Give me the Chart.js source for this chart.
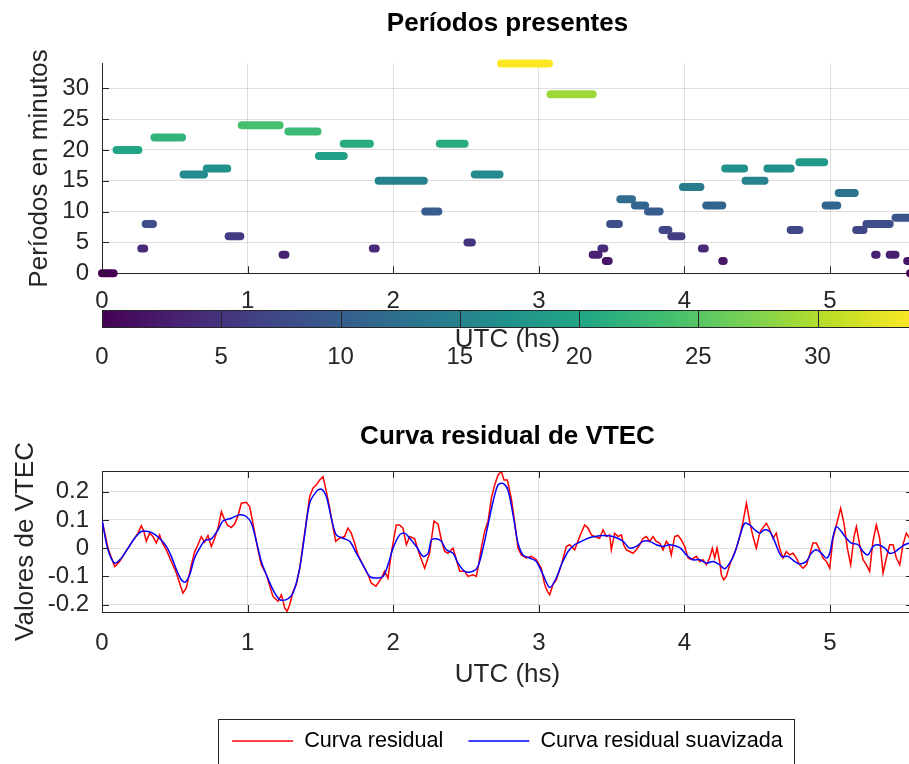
<!DOCTYPE html>
<html>
<head>
<meta charset="utf-8">
<script src="https://cdn.jsdelivr.net/npm/chart.js@4.4.1/dist/chart.umd.min.js"></script>
<style>
  html, body { margin: 0; padding: 0; background: #fff; overflow: hidden; width: 909px; height: 764px; }
  canvas { position: absolute; left: 0; }
  #top { top: 0; }
  #cbar { top: 300px; }
  #bottom { top: 380px; }
</style>
</head>
<body>
<canvas id="top" width="913" height="380"></canvas>
<canvas id="cbar" width="913" height="80"></canvas>
<canvas id="bottom" width="913" height="384"></canvas>
<script>
// periods found: each one is a run of points at a constant period (UTC hours)
const segStart  = [0.00, 0.10, 0.27, 0.30, 0.36, 0.56, 0.72, 0.87, 0.96, 1.24, 1.28, 1.49, 1.66, 1.86, 1.90, 2.22, 2.32, 2.51, 2.56, 2.74, 3.08, 3.37, 3.43, 3.46, 3.49, 3.56, 3.66, 3.75, 3.85, 3.91, 3.99, 4.12, 4.15, 4.26, 4.28, 4.42, 4.57, 4.73, 4.79, 4.97, 5.06, 5.18, 5.25, 5.31, 5.41, 5.45, 5.53, 5.55];
const segEnd    = [0.08, 0.25, 0.29, 0.35, 0.55, 0.70, 0.86, 0.95, 1.22, 1.26, 1.48, 1.66, 1.84, 1.88, 2.21, 2.31, 2.49, 2.54, 2.73, 3.07, 3.37, 3.41, 3.45, 3.48, 3.55, 3.64, 3.73, 3.83, 3.89, 3.98, 4.11, 4.14, 4.26, 4.27, 4.41, 4.55, 4.73, 4.79, 4.96, 5.05, 5.17, 5.23, 5.41, 5.32, 5.45, 5.56, 5.56, 5.57];
const segPeriod = [0, 20, 4, 8, 22, 16, 17, 6, 24, 3, 23, 19, 21, 4, 15, 10, 21, 5, 16, 34, 29, 3, 4, 2, 8, 12, 11, 10, 7, 6, 14, 4, 11, 2, 17, 15, 17, 7, 18, 11, 13, 7, 8, 3, 3, 9, 2, 0];

// residual VTEC curve (raw) and its smoothed version
const resX = [0.000, 0.041, 0.087, 0.121, 0.156, 0.201, 0.247, 0.270, 0.288, 0.304, 0.327, 0.350, 0.373, 0.396, 0.412, 0.442, 0.476, 0.511, 0.540, 0.556, 0.579, 0.614, 0.636, 0.659, 0.682, 0.705, 0.728, 0.751, 0.774, 0.797, 0.820, 0.838, 0.861, 0.888, 0.911, 0.934, 0.957, 0.991, 1.014, 1.037, 1.071, 1.094, 1.129, 1.174, 1.209, 1.232, 1.255, 1.271, 1.289, 1.312, 1.335, 1.358, 1.380, 1.403, 1.426, 1.449, 1.472, 1.495, 1.518, 1.541, 1.564, 1.586, 1.605, 1.632, 1.666, 1.689, 1.712, 1.735, 1.758, 1.792, 1.827, 1.850, 1.882, 1.919, 1.941, 1.964, 1.987, 2.021, 2.044, 2.067, 2.090, 2.113, 2.147, 2.182, 2.216, 2.250, 2.280, 2.308, 2.331, 2.354, 2.376, 2.411, 2.434, 2.457, 2.491, 2.514, 2.548, 2.571, 2.582, 2.605, 2.628, 2.651, 2.674, 2.697, 2.720, 2.743, 2.761, 2.784, 2.811, 2.834, 2.857, 2.880, 2.914, 2.949, 2.983, 3.017, 3.040, 3.059, 3.075, 3.097, 3.120, 3.155, 3.189, 3.212, 3.246, 3.281, 3.315, 3.338, 3.361, 3.384, 3.418, 3.441, 3.464, 3.487, 3.498, 3.521, 3.544, 3.567, 3.583, 3.601, 3.624, 3.647, 3.670, 3.693, 3.716, 3.739, 3.761, 3.784, 3.807, 3.830, 3.853, 3.876, 3.894, 3.910, 3.933, 3.956, 3.979, 4.002, 4.025, 4.047, 4.082, 4.105, 4.128, 4.151, 4.173, 4.192, 4.208, 4.224, 4.242, 4.254, 4.270, 4.288, 4.311, 4.334, 4.357, 4.380, 4.403, 4.426, 4.448, 4.471, 4.494, 4.517, 4.528, 4.563, 4.586, 4.609, 4.631, 4.654, 4.677, 4.700, 4.723, 4.746, 4.769, 4.792, 4.815, 4.838, 4.860, 4.883, 4.906, 4.929, 4.952, 4.975, 4.998, 5.021, 5.044, 5.073, 5.096, 5.119, 5.142, 5.165, 5.181, 5.204, 5.227, 5.250, 5.272, 5.295, 5.318, 5.341, 5.364, 5.387, 5.410, 5.433, 5.456, 5.479, 5.501, 5.524, 5.547];
const resY = [0.100, 0.000, -0.065, -0.047, -0.018, 0.018, 0.053, 0.079, 0.059, 0.024, 0.053, 0.041, 0.018, 0.047, 0.021, -0.006, -0.047, -0.088, -0.135, -0.159, -0.141, -0.059, -0.014, 0.012, 0.041, 0.021, 0.045, 0.006, 0.035, 0.071, 0.129, 0.106, 0.082, 0.073, 0.085, 0.115, 0.159, 0.162, 0.147, 0.088, -0.006, -0.059, -0.094, -0.171, -0.188, -0.165, -0.212, -0.224, -0.200, -0.153, -0.129, -0.071, 0.012, 0.094, 0.182, 0.212, 0.224, 0.241, 0.253, 0.200, 0.141, 0.076, 0.024, 0.035, 0.041, 0.071, 0.053, 0.018, -0.024, -0.059, -0.094, -0.124, -0.135, -0.106, -0.082, -0.106, -0.018, 0.082, 0.082, 0.071, 0.012, 0.041, 0.033, -0.024, -0.071, -0.018, 0.096, 0.085, 0.029, -0.012, -0.018, 0.000, -0.041, -0.082, -0.082, -0.100, -0.094, -0.100, -0.071, 0.000, 0.059, 0.094, 0.176, 0.224, 0.259, 0.271, 0.241, 0.241, 0.176, 0.094, 0.000, -0.024, -0.035, -0.029, -0.041, -0.071, -0.129, -0.153, -0.165, -0.129, -0.112, -0.059, 0.006, 0.012, -0.006, 0.041, 0.082, 0.071, 0.047, 0.041, 0.035, 0.065, 0.041, 0.047, -0.006, 0.053, 0.041, 0.047, 0.012, -0.006, -0.012, -0.018, -0.006, 0.012, 0.035, 0.041, 0.024, 0.041, 0.024, 0.018, -0.006, 0.024, 0.012, -0.024, 0.041, 0.045, 0.029, 0.006, -0.035, -0.041, -0.029, -0.047, -0.041, -0.059, -0.035, 0.000, -0.035, 0.000, -0.047, -0.094, -0.112, -0.100, -0.059, -0.029, 0.000, 0.041, 0.094, 0.159, 0.094, 0.041, 0.000, 0.053, 0.065, 0.088, 0.065, 0.035, 0.053, 0.000, -0.035, -0.012, -0.024, -0.018, -0.035, -0.059, -0.071, -0.059, -0.024, 0.018, 0.018, -0.006, -0.035, -0.047, -0.071, 0.035, 0.082, 0.141, 0.088, 0.000, -0.059, 0.041, 0.076, 0.012, -0.041, -0.059, -0.082, 0.024, 0.082, 0.035, -0.088, -0.035, 0.012, 0.012, -0.035, -0.059, 0.012, 0.053, 0.035];
const smoothX = [0.000, 0.041, 0.087, 0.133, 0.179, 0.224, 0.270, 0.316, 0.362, 0.407, 0.442, 0.476, 0.511, 0.545, 0.572, 0.602, 0.636, 0.671, 0.705, 0.751, 0.797, 0.831, 0.888, 0.946, 0.991, 1.026, 1.060, 1.094, 1.129, 1.174, 1.220, 1.266, 1.312, 1.358, 1.392, 1.426, 1.472, 1.506, 1.541, 1.575, 1.609, 1.655, 1.701, 1.747, 1.792, 1.838, 1.884, 1.930, 1.964, 1.999, 2.044, 2.079, 2.113, 2.159, 2.205, 2.240, 2.262, 2.296, 2.331, 2.365, 2.411, 2.445, 2.491, 2.548, 2.582, 2.617, 2.651, 2.686, 2.720, 2.754, 2.788, 2.823, 2.857, 2.891, 2.937, 2.983, 3.029, 3.075, 3.120, 3.155, 3.201, 3.246, 3.292, 3.338, 3.384, 3.442, 3.510, 3.579, 3.624, 3.670, 3.716, 3.761, 3.807, 3.853, 3.899, 3.968, 4.014, 4.059, 4.105, 4.151, 4.197, 4.242, 4.277, 4.311, 4.345, 4.380, 4.414, 4.448, 4.483, 4.517, 4.551, 4.586, 4.620, 4.666, 4.711, 4.757, 4.792, 4.838, 4.872, 4.906, 4.941, 4.975, 4.998, 5.021, 5.044, 5.078, 5.112, 5.147, 5.193, 5.227, 5.261, 5.295, 5.330, 5.376, 5.410, 5.444, 5.479, 5.513, 5.547];
const smoothY = [0.100, -0.006, -0.053, -0.035, 0.000, 0.035, 0.059, 0.059, 0.049, 0.029, 0.006, -0.029, -0.076, -0.112, -0.120, -0.094, -0.035, 0.000, 0.026, 0.033, 0.065, 0.096, 0.106, 0.118, 0.112, 0.088, 0.024, -0.047, -0.094, -0.147, -0.182, -0.182, -0.159, -0.071, 0.047, 0.159, 0.200, 0.209, 0.182, 0.106, 0.047, 0.035, 0.024, -0.018, -0.059, -0.100, -0.106, -0.100, -0.059, 0.000, 0.047, 0.053, 0.035, 0.006, -0.029, -0.018, 0.029, 0.033, 0.024, -0.006, -0.018, -0.053, -0.082, -0.082, -0.065, 0.000, 0.082, 0.165, 0.224, 0.229, 0.206, 0.118, 0.018, -0.024, -0.035, -0.047, -0.094, -0.139, -0.106, -0.059, -0.012, 0.012, 0.024, 0.035, 0.041, 0.045, 0.041, 0.024, 0.000, 0.006, 0.024, 0.024, 0.012, 0.006, 0.012, 0.002, -0.024, -0.041, -0.041, -0.053, -0.047, -0.059, -0.073, -0.053, -0.018, 0.041, 0.088, 0.082, 0.065, 0.053, 0.065, 0.059, 0.024, -0.029, -0.029, -0.047, -0.056, -0.047, -0.018, -0.006, -0.018, -0.035, -0.018, 0.041, 0.076, 0.059, 0.035, 0.018, 0.012, -0.012, -0.024, 0.006, 0.012, 0.000, -0.018, -0.014, 0.000, 0.012, 0.018];

const seriesLabels = ['Curva residual', 'Curva residual suavizada'];
const colorTicks = [0, 5, 10, 15, 20, 25, 30];

const XMAX = 5.57;      // UTC hours shown
const CMAX = 34;        // colour scale top (minutes)
const AXIS = '#262626';
const GRID = 'rgba(38,38,38,0.15)';
const FONT = '"Liberation Sans", Arial, Helvetica, sans-serif';

Chart.defaults.font.family = FONT;
Chart.defaults.color = AXIS;

// viridis colormap
const viridisStops = ['#440154', '#482475', '#414487', '#355f8d', '#2a788e', '#21918c', '#22a884', '#44bf70', '#7ad151', '#bddf26', '#fde725'];
function hexToRgb(h) {
  return [parseInt(h.slice(1, 3), 16), parseInt(h.slice(3, 5), 16), parseInt(h.slice(5, 7), 16)];
}
function viridis(t) {
  t = Math.max(0, Math.min(1, t));
  const p = t * (viridisStops.length - 1);
  const i = Math.min(Math.floor(p), viridisStops.length - 2);
  const f = p - i;
  const a = hexToRgb(viridisStops[i]), b = hexToRgb(viridisStops[i + 1]);
  const c = a.map((v, k) => Math.round(v + (b[k] - v) * f));
  return `rgb(${c[0]},${c[1]},${c[2]})`;
}

// short tick marks pointing into the plot, like the original figure
const innerTicks = {
  id: 'innerTicks',
  afterDraw(chart, args, opts) {
    const {ctx, chartArea: a, scales} = chart;
    const len = 7;
    ctx.save();
    ctx.strokeStyle = AXIS;
    ctx.lineWidth = 1;
    ctx.beginPath();
    scales.x.ticks.forEach(t => {
      const px = Math.round(scales.x.getPixelForValue(t.value)) + 0.5;
      ctx.moveTo(px, a.bottom); ctx.lineTo(px, a.bottom - len);
      if (opts.box) { ctx.moveTo(px, a.top); ctx.lineTo(px, a.top + len); }
    });
    scales.y.ticks.forEach(t => {
      const py = Math.round(scales.y.getPixelForValue(t.value)) + 0.5;
      ctx.moveTo(a.left, py); ctx.lineTo(a.left + len, py);
      if (opts.box) { ctx.moveTo(a.right, py); ctx.lineTo(a.right - len, py); }
    });
    if (opts.box) {
      ctx.moveTo(a.left, Math.round(a.top) + 0.5); ctx.lineTo(a.right, Math.round(a.top) + 0.5);
      ctx.moveTo(Math.round(a.right) - 0.5, a.top); ctx.lineTo(Math.round(a.right) - 0.5, a.bottom);
    }
    ctx.stroke();
    ctx.restore();
  }
};

// colour bar: gradient over the chart area of its own small chart
const colorbar = {
  id: 'colorbar',
  beforeDatasetsDraw(chart) {
    const {ctx, chartArea: a, scales: {x}} = chart;
    const g = ctx.createLinearGradient(x.getPixelForValue(0), 0, x.getPixelForValue(CMAX), 0);
    viridisStops.forEach((c, i) => g.addColorStop(i / (viridisStops.length - 1), c));
    ctx.save();
    ctx.fillStyle = g;
    ctx.fillRect(a.left, a.top, a.right - a.left, a.bottom - a.top);
    ctx.strokeStyle = AXIS;
    ctx.lineWidth = 1;
    ctx.beginPath();
    x.ticks.forEach(t => {
      const px = Math.round(x.getPixelForValue(t.value)) + 0.5;
      ctx.moveTo(px, a.top); ctx.lineTo(px, a.bottom);
    });
    ctx.stroke();
    ctx.strokeRect(Math.round(a.left) + 0.5, Math.round(a.top) + 0.5, a.right - a.left, Math.round(a.bottom - a.top));
    ctx.restore();
  }
};

// legend in a box under the lower plot
const boxLegend = {
  id: 'boxLegend',
  afterDraw(chart) {
    const {ctx, chartArea: a} = chart;
    const lineLen = 61, gap = 11, itemGap = 25;
    const y = 361;
    ctx.save();
    ctx.font = '21.6px ' + FONT;
    const items = chart.data.datasets.map(ds => ({label: ds.label, color: ds.borderColor, w: ctx.measureText(ds.label).width}));
    const total = items.reduce((s, it) => s + lineLen + gap + it.w, 0) + itemGap * (items.length - 1);
    let x = (a.left + a.right) / 2 - total / 2;
    ctx.strokeStyle = AXIS;
    ctx.lineWidth = 1;
    ctx.strokeRect(Math.round(x - 14) + 0.5, y - 22 + 0.5, Math.round(total + 25), 60);
    ctx.textBaseline = 'middle';
    ctx.fillStyle = '#000';
    items.forEach(it => {
      ctx.strokeStyle = it.color;
      ctx.lineWidth = 1.3;
      ctx.beginPath();
      ctx.moveTo(x, y); ctx.lineTo(x + lineLen, y);
      ctx.stroke();
      ctx.fillText(it.label, x + lineLen + gap, y);
      x += lineLen + gap + it.w + itemGap;
    });
    ctx.restore();
  }
};

// top: periods present
new Chart(document.getElementById('top'), {
  type: 'line',
  data: {
    datasets: segStart.map((s, i) => ({
      data: [{x: s, y: segPeriod[i]}, {x: segEnd[i], y: segPeriod[i]}],
      borderColor: viridis(segPeriod[i] / CMAX),
      borderWidth: 8,
      borderCapStyle: 'round',
      pointRadius: 0,
      clip: false
    }))
  },
  options: {
    responsive: false,
    animation: false,
    plugins: {
      legend: {display: false},
      tooltip: {enabled: false},
      title: {display: true, text: 'Períodos presentes', fullSize: false, color: '#000',
        font: {size: 26, weight: 'bold'}, padding: {top: 8.4, bottom: 23.9}},
      innerTicks: {box: false}
    },
    scales: {
      x: {
        type: 'linear', min: 0, max: XMAX,
        afterFit: s => { s.height = 106.7; },
        ticks: {stepSize: 1, includeBounds: false, padding: 14, font: {size: 24}},
        grid: {color: GRID, drawTicks: false},
        border: {color: AXIS},
        title: {display: true, text: 'UTC (hs)', font: {size: 26}, padding: {bottom: 25}}
      },
      y: {
        min: 0, max: CMAX,
        afterFit: s => { s.width = 102; },
        ticks: {stepSize: 5, includeBounds: false, padding: 13, font: {size: 24}},
        grid: {color: GRID, drawTicks: false},
        border: {color: AXIS},
        title: {display: true, text: 'Períodos en minutos', font: {size: 26}, padding: {top: 24.4}}
      }
    }
  },
  plugins: [innerTicks]
});

// colour bar under the top plot
new Chart(document.getElementById('cbar'), {
  type: 'scatter',
  data: {datasets: []},
  options: {
    responsive: false,
    animation: false,
    layout: {padding: {left: 102, top: 10}},
    plugins: {legend: {display: false}, tooltip: {enabled: false}},
    scales: {
      x: {
        type: 'linear', min: 0, max: CMAX,
        afterFit: s => { s.height = 53; },
        afterBuildTicks: s => { s.ticks = colorTicks.map(v => ({value: v})); },
        ticks: {padding: 15.6, font: {size: 24}},
        grid: {display: false, drawTicks: false},
        border: {display: false}
      },
      y: {display: false, min: 0, max: 1}
    }
  },
  plugins: [colorbar]
});

// bottom: residual VTEC curve
new Chart(document.getElementById('bottom'), {
  type: 'line',
  data: {
    datasets: [
      {label: seriesLabels[0], data: resX.map((x, i) => ({x, y: resY[i]})), borderColor: '#ff0000',
        borderWidth: 1.5, pointRadius: 0, tension: 0, order: 2},
      {label: seriesLabels[1], data: smoothX.map((x, i) => ({x, y: smoothY[i]})), borderColor: '#0000ff',
        borderWidth: 1.5, pointRadius: 0, tension: 0.3, order: 1}
    ]
  },
  options: {
    responsive: false,
    animation: false,
    layout: {padding: {bottom: 60}},
    plugins: {
      legend: {display: false},
      tooltip: {enabled: false},
      title: {display: true, text: 'Curva residual de VTEC', fullSize: false, color: '#000',
        font: {size: 26, weight: 'bold'}, padding: {top: 41.4, bottom: 18.4}},
      innerTicks: {box: true}
    },
    scales: {
      x: {
        type: 'linear', min: 0, max: XMAX,
        afterFit: s => { s.height = 92; },
        ticks: {stepSize: 1, includeBounds: false, padding: 16.6, font: {size: 24}},
        grid: {color: GRID, drawTicks: false},
        border: {color: AXIS},
        title: {display: true, text: 'UTC (hs)', font: {size: 26}, padding: {bottom: 13.4}}
      },
      y: {
        min: -0.226, max: 0.273,
        afterFit: s => { s.width = 102; },
        ticks: {stepSize: 0.1, includeBounds: false, padding: 13, font: {size: 24}},
        grid: {color: GRID, drawTicks: false},
        border: {color: AXIS},
        title: {display: true, text: 'Valores de VTEC', font: {size: 26}, padding: {top: 10.4}}
      }
    }
  },
  plugins: [innerTicks, boxLegend]
});
</script>
</body>
</html>
